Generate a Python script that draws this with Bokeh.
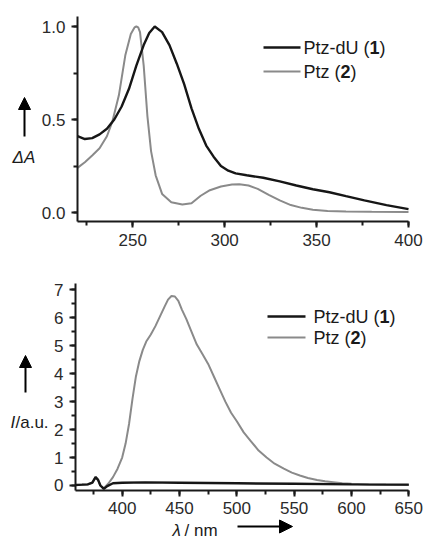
from bokeh.plotting import figure
from bokeh.layouts import column
from bokeh.models import (SingleIntervalTicker, Label, Arrow, NormalHead,
                          Range1d, PrintfTickFormatter)
from bokeh.embed import file_html
from bokeh.resources import INLINE

# ---------------- data: absorption (top) ----------------
abs_wl_dU = [220, 224, 228, 232, 236, 240, 244, 248, 252, 256, 259, 262, 266, 270,
             274, 278, 282, 286, 290, 294, 298, 302, 306, 312, 321, 330, 339, 348,
             357, 366, 376, 388, 400]
abs_dU = [0.41, 0.395, 0.40, 0.42, 0.45, 0.50, 0.57, 0.665, 0.79, 0.90, 0.965, 1.0,
          0.97, 0.90, 0.80, 0.69, 0.56, 0.45, 0.36, 0.30, 0.25, 0.225, 0.21, 0.20,
          0.187, 0.167, 0.145, 0.125, 0.109, 0.088, 0.065, 0.04, 0.018]

abs_wl_ptz = [220, 224, 228, 232, 236, 239, 242.5, 246, 249, 251, 252, 253, 254, 256,
              258, 260, 262.5, 266, 271, 277, 282, 287, 292, 298, 304, 308, 313, 318,
              324, 330, 336, 342, 348, 356, 366, 380, 400]
abs_ptz = [0.24, 0.27, 0.306, 0.345, 0.41, 0.49, 0.63, 0.845, 0.96, 0.995, 1.0, 0.995,
           0.97, 0.79, 0.52, 0.33, 0.2, 0.1, 0.055, 0.043, 0.05, 0.09, 0.12, 0.14,
           0.15, 0.152, 0.145, 0.127, 0.095, 0.065, 0.04, 0.025, 0.015, 0.008, 0.005,
           0.004, 0.003]

# ---------------- data: emission (bottom) ----------------
em_wl_dU = [359.3, 365, 370, 374, 376.8, 379, 381, 384, 387, 392, 400, 420, 450, 500,
            550, 600, 650]
em_dU = [0.02, 0.03, 0.04, 0.1, 0.3, 0.2, 0.0, -0.12, -0.02, 0.08, 0.1, 0.11, 0.1,
         0.08, 0.06, 0.04, 0.03]

em_wl_ptz = [359.3, 370, 374, 376.8, 379, 381, 384, 388, 392, 396, 400, 403, 406, 409,
             412, 415, 418, 421, 425, 429, 433, 437, 440, 443, 446, 449, 452, 456, 460,
             465, 470, 475, 480, 485, 490, 495, 500, 506, 512, 519, 526, 533, 541, 548,
             555, 562, 570, 577, 584, 592, 600, 615, 630, 650]
em_ptz = [0.02, 0.04, 0.1, 0.3, 0.2, 0.0, -0.1, 0.07, 0.3, 0.6, 1.0, 1.5, 2.2, 3.1,
          3.9, 4.45, 4.85, 5.15, 5.4, 5.7, 6.05, 6.4, 6.65, 6.78, 6.76, 6.6, 6.3, 5.95,
          5.55, 5.05, 4.7, 4.35, 3.9, 3.45, 3.0, 2.6, 2.3, 1.9, 1.6, 1.25, 1.0, 0.78,
          0.6, 0.46, 0.36, 0.27, 0.2, 0.15, 0.12, 0.08, 0.06, 0.04, 0.03, 0.02]

legend_names = ["Ptz-dU (", "Ptz ("]
legend_nums = ["1", "2"]

# axis extents (data units)
abs_x_bounds = (220, 400)
abs_y_bounds = (-0.0484, 1.0538)
em_x_bounds = (359.3, 650)
em_y_bounds = (-0.1788, 7.2253)

BLACK = "#161616"
GRAY = "#8a8a8a"
FONT = "Liberation Sans"
TXT = "#1a1a1a"


def style(p, xint, yint, fmt, xb, yb):
    p.outline_line_color = None
    p.grid.visible = False
    p.background_fill_color = "white"
    p.border_fill_color = "white"
    p.xaxis.ticker = SingleIntervalTicker(interval=xint, num_minor_ticks=2)
    p.yaxis.ticker = SingleIntervalTicker(interval=yint, num_minor_ticks=2)
    p.yaxis.formatter = PrintfTickFormatter(format=fmt)
    p.xaxis.fixed_location = yb[0]
    p.yaxis.fixed_location = xb[0]
    p.xaxis.bounds = xb
    p.yaxis.bounds = yb
    for ax in (p.xaxis[0], p.yaxis[0]):
        ax.axis_line_width = 2
        ax.axis_line_color = TXT
        ax.major_tick_line_width = 2
        ax.minor_tick_line_width = 2
        ax.major_tick_line_color = TXT
        ax.minor_tick_line_color = TXT
        ax.major_tick_out = 6
        ax.major_tick_in = 0
        ax.minor_tick_out = 4
        ax.minor_tick_in = 0
        ax.major_label_text_font = FONT
        ax.major_label_text_font_size = "17px"
        ax.major_label_text_color = "#2a2a2a"
        ax.major_label_standoff = 6


def txt(p, x, y, text, style="normal", size=17, baseline="alphabetic"):
    p.add_layout(Label(x=x, y=y, x_units="screen", y_units="screen", text=text,
                       text_font=FONT, text_font_style=style,
                       text_font_size=f"{size}px", text_color=TXT,
                       text_baseline=baseline))


def arrow(p, x0, y0, x1, y1, size=13):
    p.add_layout(Arrow(end=NormalHead(size=size, fill_color="black", line_color="black"),
                       x_start=x0, y_start=y0, x_end=x1, y_end=y1,
                       start_units="screen", end_units="screen", line_width=2,
                       line_color="black"))


def add_legend(p, x_line0, x_line1, x_text, ys):
    fs = 18
    for i, y in enumerate(ys):
        color = BLACK if i == 0 else GRAY
        lw = 2.6 if i == 0 else 2.0
        p.add_layout(Arrow(end=None, x_start=x_line0, y_start=y, x_end=x_line1, y_end=y,
                           start_units="screen", end_units="screen",
                           line_color=color, line_width=lw))
        w = (3.667 if i == 0 else 2.056) * fs
        txt(p, x_text, y, legend_names[i], size=fs, baseline="middle")
        txt(p, x_text + w, y, legend_nums[i], style="bold", size=fs, baseline="middle")
        txt(p, x_text + w + 0.556 * fs, y, ")", size=fs, baseline="middle")


# ---------------- top figure (canvas = frame, 425 x 250) ----------------
p1 = figure(width=425, height=250, min_border=0, output_backend="svg",
            toolbar_location=None, x_range=Range1d(178.13, 409.24),
            y_range=Range1d(-0.2043, 1.1398))
style(p1, 50, 0.5, "%.1f", abs_x_bounds, abs_y_bounds)
p1.line(abs_wl_ptz, abs_ptz, line_color=GRAY, line_width=2.0)
p1.line(abs_wl_dU, abs_dU, line_color=BLACK, line_width=2.4)
add_legend(p1, 263, 300, 303, [203, 179])
arrow(p1, 24, 114, 24, 153, size=12)
txt(p1, 12, 93, "ΔA", style="italic")

# ---------------- bottom figure (canvas = frame, 425 x 292) ----------------
p2 = figure(width=425, height=292, min_border=0, output_backend="svg",
            toolbar_location=None, x_range=Range1d(293.89, 664.57),
            y_range=Range1d(-2.0389, 8.4057))
style(p2, 50, 1, "%d", em_x_bounds, em_y_bounds)
p2.line(em_wl_ptz, em_ptz, line_color=GRAY, line_width=2.0)
p2.line(em_wl_dU, em_dU, line_color=BLACK, line_width=2.4)
add_legend(p2, 267, 305, 313, [226, 205])
arrow(p2, 25, 150, 25, 187, size=12)
txt(p2, 10, 120, "I", style="italic")
txt(p2, 15, 120, "/a.u.")
txt(p2, 172, 12, "λ", style="italic")
txt(p2, 184, 12, "/ nm")
arrow(p2, 237, 16, 292, 16)

layout = column(p1, p2, spacing=0)
open("out.html", "w").write(file_html(layout, INLINE))
